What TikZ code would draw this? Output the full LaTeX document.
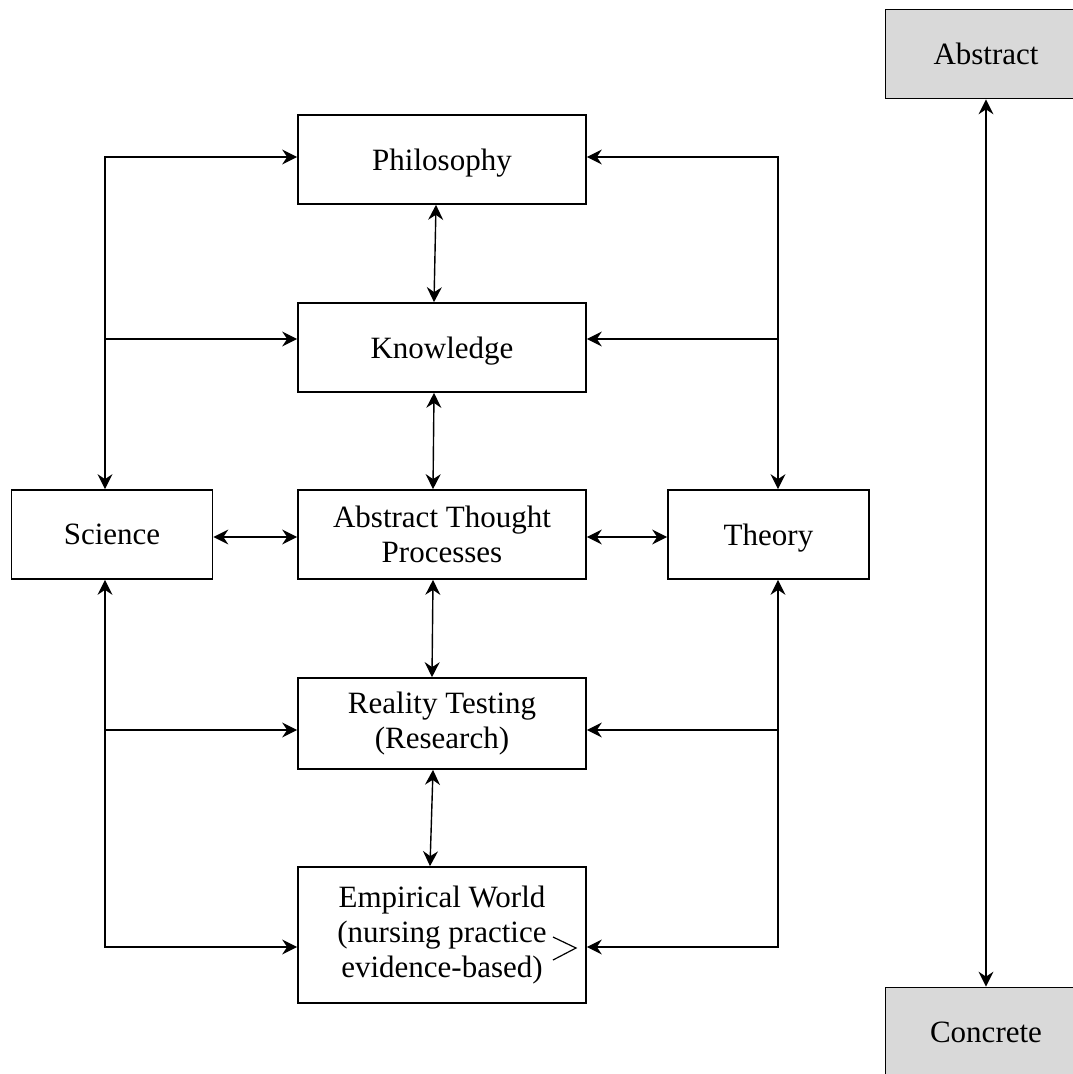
\documentclass[tikz,border=0pt]{standalone}
\usepackage{fontspec}
\setmainfont{Liberation Serif}
\usepackage{tikz}
\usetikzlibrary{arrows.meta,positioning}
\definecolor{boxgray}{HTML}{D9D9D9}

\begin{document}
\begin{tikzpicture}[x=1pt,y=-1pt,
    >={Stealth[length=15pt,width=15pt,inset=5pt]},
    main/.style={draw, line width=1.7pt, minimum width=288pt, minimum height=89pt, inner sep=0pt, align=center, font=\fontsize{31}{35}\selectfont},
    oneline/.style={main, text depth=0pt},
    side/.style={oneline, minimum width=201pt},
    level/.style={side, fill=boxgray},
    link/.style={line width=1.4pt}]
    \useasboundingbox (0,0) rectangle (1073,1074);
    \clip (0,0) rectangle (1073,1074);

    \node[oneline] (1) at (442,159.5) {Philosophy};
    \node[oneline] (2) at (442,347.5) {Knowledge};
    \node[main] (3) at (442,534.5) {Abstract Thought\\Processes};
    \node[side] (4) at (112,534.5) {Science};
    \node[side] (5) at (768.5,534.5) {Theory};
    \node[main, minimum height=91pt] (6) at (442,723.5) {Reality Testing\\(Research)};
    \node[main, minimum height=136pt] (7) at (442,935) {Empirical World\\(nursing practice\\evidence-based)};

    \node[level] (8) at (986,54) {Abstract};
    \node[level] (9) at (986,1032) {Concrete};

    % corners of the side lines
    \coordinate (l1) at (105,157);
    \coordinate (l2) at (105,339);
    \coordinate (l3) at (105,730);
    \coordinate (l4) at (105,947);
    \coordinate (r1) at (778,157);
    \coordinate (r2) at (778,339);
    \coordinate (r3) at (778,730);
    \coordinate (r4) at (778,947);

    \draw[link,<->] (1.west |- l1) -| (4.north -| l1);
    \draw[link,->] (l2) -- (2.west |- l2);
    \draw[link,<->] (1.east |- r1) -| (5.north -| r1);
    \draw[link,->] (r2) -- (2.east |- r2);

    \draw[link,<->] (4.south -| l1) |- (7.west |- l4);
    \draw[link,->] (l3) -- (6.west |- l3);
    \draw[link,<->] (5.south -| r1) |- (7.east |- r4);
    \draw[link,->] (r3) -- (6.east |- r3);

    \draw[link,<->] ([yshift=-2.5pt]4.east) -- ([yshift=-2.5pt]3.west);
    \draw[link,<->] ([yshift=-2.5pt]3.east) -- ([yshift=-2.5pt]5.west);

    \draw[link,<->] ([xshift=-6pt]1.south) -- ([xshift=-8pt]2.north);
    \draw[link,<->] ([xshift=-8pt]2.south) -- ([xshift=-9pt]3.north);
    \draw[link,<->] ([xshift=-9pt]3.south) -- ([xshift=-10pt]6.north);
    \draw[link,<->] ([xshift=-9pt]6.south) -- ([xshift=-12pt]7.north);

    \draw[link,<->] (8) -- (9);

    \draw[line width=1.2pt] (553,937) -- (576,948) -- (553,960);
\end{tikzpicture}
\end{document}
